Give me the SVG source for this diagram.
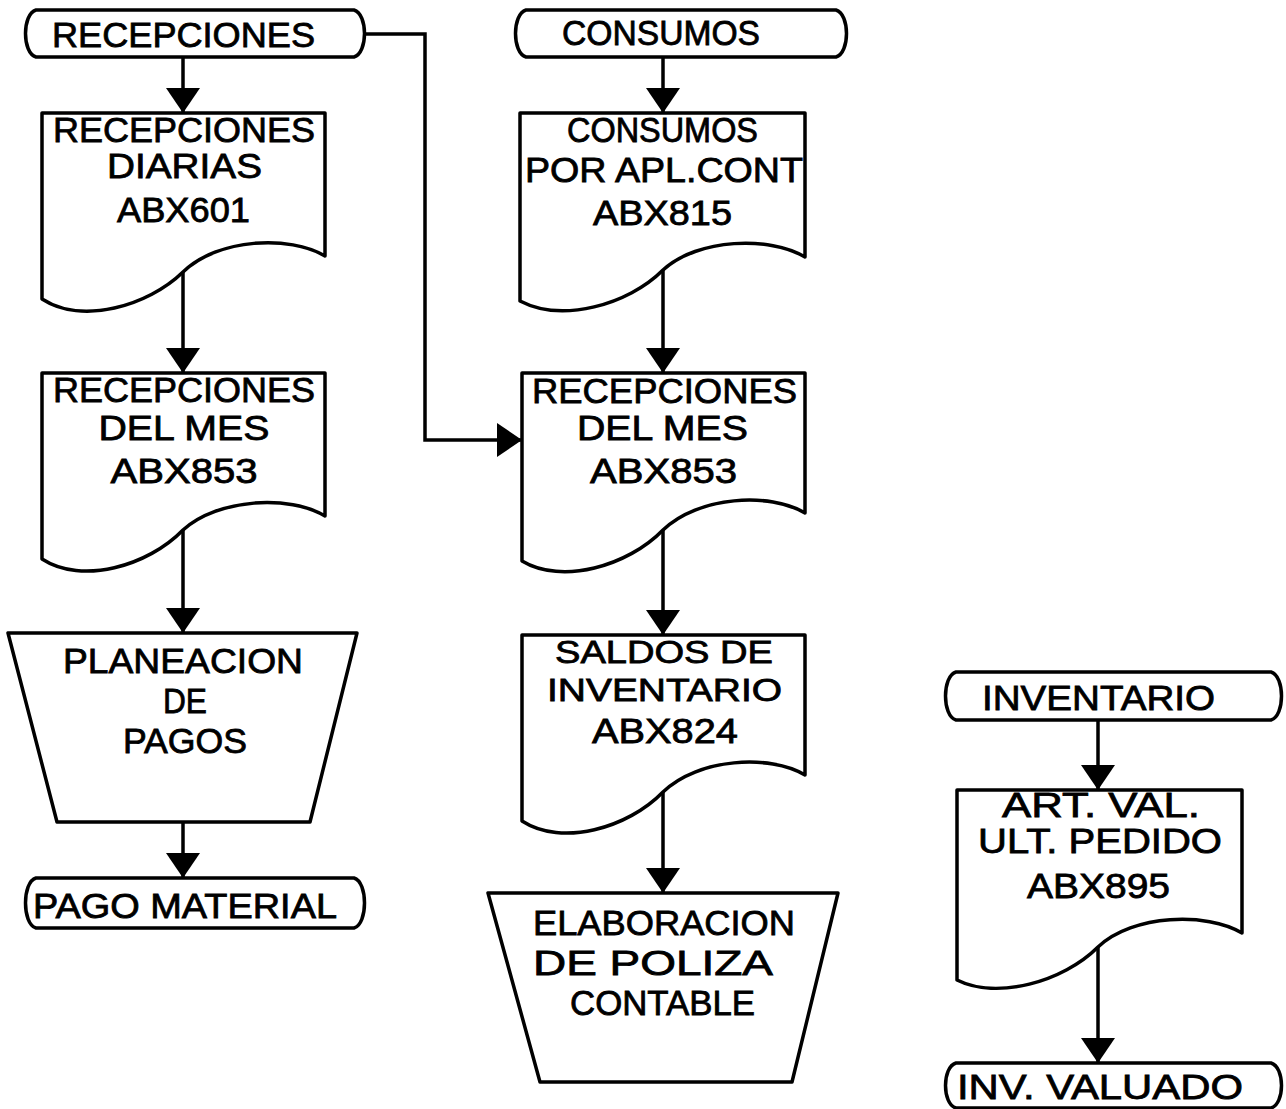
<svg xmlns="http://www.w3.org/2000/svg" width="1286" height="1109" viewBox="0 0 1286 1109">
<style>
.s{fill:#fff;stroke:#000;stroke-width:3.5;stroke-linejoin:round}
.c{fill:none;stroke:#000;stroke-width:3.5}
text{font-family:"Liberation Sans",Arial,sans-serif;font-size:35px;fill:#000;text-anchor:middle;stroke:#000;stroke-width:0.8}
.sm{font-size:32px}
</style>
<defs>
<marker id="ah" markerUnits="userSpaceOnUse" markerWidth="26" markerHeight="36" refX="25" refY="18" orient="auto" viewBox="0 0 26 36">
<path d="M0,1 L25,18 L0,35 Z" fill="#000"/>
</marker>
</defs>
<rect width="1286" height="1109" fill="#fff"/>
<g id="connectors">
<line class="c" x1="183" y1="57" x2="183" y2="113" marker-end="url(#ah)"/>
<line class="c" x1="183" y1="272" x2="183" y2="373" marker-end="url(#ah)"/>
<line class="c" x1="183" y1="530" x2="183" y2="633" marker-end="url(#ah)"/>
<line class="c" x1="183" y1="822" x2="183" y2="878" marker-end="url(#ah)"/>
<path class="c" d="M357,34 H425 V440 H522" marker-end="url(#ah)"/>
<line class="c" x1="663" y1="57" x2="663" y2="113" marker-end="url(#ah)"/>
<line class="c" x1="663" y1="270" x2="663" y2="373" marker-end="url(#ah)"/>
<line class="c" x1="663" y1="530" x2="663" y2="635" marker-end="url(#ah)"/>
<line class="c" x1="663" y1="792" x2="663" y2="893" marker-end="url(#ah)"/>
<line class="c" x1="1098" y1="720" x2="1098" y2="790" marker-end="url(#ah)"/>
<line class="c" x1="1098" y1="947" x2="1098" y2="1063" marker-end="url(#ah)"/>
</g>
<g id="t1">
<path class="s" d="M36,10 H354 C368,14 368,53 354,57 H36 C22,53 22,14 36,10 Z"/>
<text x="183.5" y="47" textLength="263" lengthAdjust="spacingAndGlyphs">RECEPCIONES</text>
</g>
<g id="t2">
<path class="s" d="M526,10 H836 C850,14 850,53 836,57 H526 C512,53 512,14 526,10 Z"/>
<text x="661" y="45" textLength="198" lengthAdjust="spacingAndGlyphs">CONSUMOS</text>
</g>
<g id="d1">
<path class="s" d="M42,113 H325 V256 C290,235 218,238 183,272 C148,306 82,325 42,299 Z"/>
<text x="184" y="142" textLength="262" lengthAdjust="spacingAndGlyphs">RECEPCIONES</text>
<text x="184.5" y="178" textLength="155" lengthAdjust="spacingAndGlyphs">DIARIAS</text>
<text x="183.5" y="222" textLength="133" lengthAdjust="spacingAndGlyphs">ABX601</text>
</g>
<g id="d2">
<path class="s" d="M42,373 H325 V516 C290,495 218,498 183,530 C148,566 82,585 42,559 Z"/>
<text x="184" y="402" textLength="262" lengthAdjust="spacingAndGlyphs">RECEPCIONES</text>
<text x="184" y="440" textLength="171" lengthAdjust="spacingAndGlyphs">DEL MES</text>
<text x="184" y="483" textLength="147" lengthAdjust="spacingAndGlyphs">ABX853</text>
</g>
<g id="p1">
<path class="s" d="M8,633 H357 L310,822 H57 Z"/>
<text x="183" y="673" textLength="240" lengthAdjust="spacingAndGlyphs">PLANEACION</text>
<text x="185" y="713" textLength="44" lengthAdjust="spacingAndGlyphs">DE</text>
<text x="185" y="753" textLength="124" lengthAdjust="spacingAndGlyphs">PAGOS</text>
</g>
<g id="t3">
<path class="s" d="M36,878 H354 C368,882 368,924 354,928 H36 C22,924 22,882 36,878 Z"/>
<text x="185" y="918" textLength="304" lengthAdjust="spacingAndGlyphs">PAGO MATERIAL</text>
</g>
<g id="d3">
<path class="s" d="M520,113 H805 V257 C770,236 698,238 663,270 C628,305 562,323 520,301 Z"/>
<text x="662.5" y="142" textLength="191" lengthAdjust="spacingAndGlyphs">CONSUMOS</text>
<text x="664" y="182" textLength="278" lengthAdjust="spacingAndGlyphs">POR APL.CONT</text>
<text x="662.5" y="225" textLength="139" lengthAdjust="spacingAndGlyphs">ABX815</text>
</g>
<g id="d4">
<path class="s" d="M522,373 H805 V513 C770,492 698,496 663,530 C628,566 562,585 522,561 Z"/>
<text x="664.5" y="403" textLength="265" lengthAdjust="spacingAndGlyphs">RECEPCIONES</text>
<text x="662.5" y="440" textLength="171" lengthAdjust="spacingAndGlyphs">DEL MES</text>
<text x="663.5" y="483" textLength="147" lengthAdjust="spacingAndGlyphs">ABX853</text>
</g>
<g id="d5">
<path class="s" d="M522,635 H805 V775 C770,754 698,758 663,792 C628,828 562,847 522,821 Z"/>
<text class="sm" x="664" y="663" textLength="218" lengthAdjust="spacingAndGlyphs">SALDOS DE</text>
<text class="sm" x="664.5" y="701" textLength="235" lengthAdjust="spacingAndGlyphs">INVENTARIO</text>
<text x="665" y="743" textLength="146" lengthAdjust="spacingAndGlyphs">ABX824</text>
</g>
<g id="p2">
<path class="s" d="M488,893 H838 L792,1082 H540 Z"/>
<text x="664" y="935" textLength="262" lengthAdjust="spacingAndGlyphs">ELABORACION</text>
<text x="653" y="975" textLength="240" lengthAdjust="spacingAndGlyphs">DE POLIZA</text>
<text x="662.5" y="1015" textLength="185" lengthAdjust="spacingAndGlyphs">CONTABLE</text>
</g>
<g id="t4">
<path class="s" d="M956,672 H1271 C1285,676 1285,716 1271,720 H956 C942,716 942,676 956,672 Z"/>
<text x="1098.5" y="710" textLength="233" lengthAdjust="spacingAndGlyphs">INVENTARIO</text>
</g>
<g id="d6">
<path class="s" d="M957,790 H1242 V933 C1207,912 1133,914 1098,947 C1063,982 997,1000 957,980 Z"/>
<text x="1101" y="817" textLength="198" lengthAdjust="spacingAndGlyphs">ART. VAL.</text>
<text x="1100" y="853" textLength="244" lengthAdjust="spacingAndGlyphs">ULT. PEDIDO</text>
<text x="1098.5" y="898" textLength="143" lengthAdjust="spacingAndGlyphs">ABX895</text>
</g>
<g id="t5">
<path class="s" d="M956,1063 H1271 C1285,1067 1285,1104 1271,1108 H956 C942,1104 942,1067 956,1063 Z"/>
<text x="1100" y="1099" textLength="286" lengthAdjust="spacingAndGlyphs">INV. VALUADO</text>
</g>
</svg>
